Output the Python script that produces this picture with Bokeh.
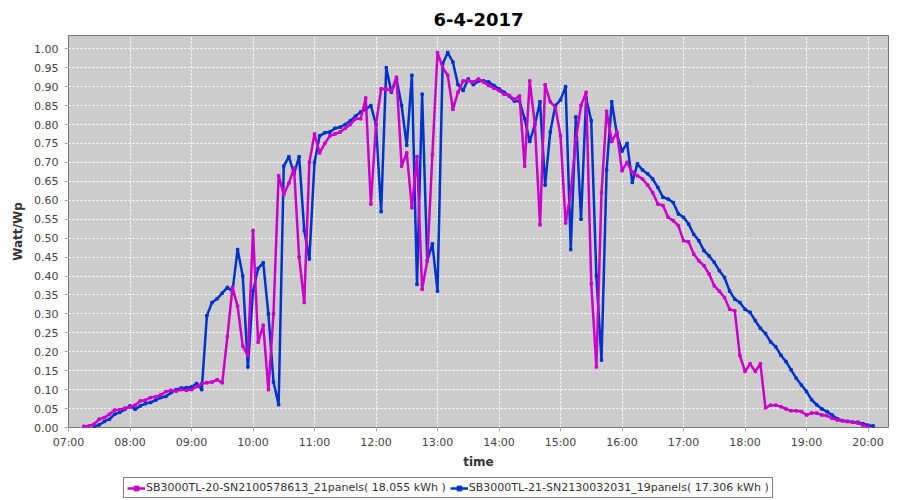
import pandas as pd
from bokeh.plotting import figure
from bokeh.layouts import column
from bokeh.models import (Range1d, SingleIntervalTicker, DatetimeTickFormatter,
                          PrintfTickFormatter, Legend, LegendItem, ColumnDataSource)
from bokeh.embed import file_html
from bokeh.resources import INLINE

DAY = "2017-04-06"
TITLE = "6-4-2017"
X_LABEL = "time"
Y_LABEL = "Watt/Wp"

name_20 = "SB3000TL-20-SN2100578613_21panels( 18.055 kWh )"
start_20 = "07:15"
values_20 = [
    0.003, 0.004, 0.009, 0.022, 0.026, 0.035, 0.046, 0.047, 0.051,                # 07:15-07:55
    0.054, 0.059, 0.070, 0.072, 0.079, 0.081, 0.086, 0.095, 0.098, 0.096, 0.100, 0.098,  # 08
    0.100, 0.108, 0.116, 0.118, 0.120, 0.126, 0.118, 0.240, 0.370, 0.320, 0.215, 0.190,  # 09
    0.520, 0.225, 0.270, 0.100, 0.300, 0.665, 0.615, 0.645, 0.685, 0.450, 0.330, 0.700,  # 10
    0.775, 0.725, 0.750, 0.770, 0.775, 0.780, 0.790, 0.800, 0.815, 0.815, 0.870, 0.590,  # 11
    0.800, 0.894, 0.894, 0.888, 0.925, 0.690, 0.725, 0.580, 0.715, 0.365, 0.440, 0.720,  # 12
    0.990, 0.950, 0.930, 0.840, 0.885, 0.915, 0.916, 0.912, 0.920, 0.912, 0.903, 0.896,  # 13
    0.890, 0.880, 0.877, 0.866, 0.875, 0.690, 0.915, 0.800, 0.535, 0.905, 0.860, 0.846,  # 14
    0.770, 0.540, 0.620, 0.760, 0.850, 0.885, 0.380, 0.160, 0.620, 0.835, 0.755, 0.780,  # 15
    0.678, 0.700, 0.674, 0.665, 0.656, 0.640, 0.620, 0.590, 0.586, 0.555, 0.546, 0.533,  # 16
    0.493, 0.490, 0.458, 0.440, 0.427, 0.405, 0.374, 0.360, 0.343, 0.312, 0.308, 0.190,  # 17
    0.148, 0.168, 0.148, 0.168, 0.052, 0.059, 0.059, 0.055, 0.049, 0.044, 0.044, 0.042,  # 18
    0.033, 0.038, 0.038, 0.033, 0.031, 0.024, 0.020, 0.018, 0.016, 0.014, 0.012, 0.006,  # 19
    0.003,                                                                        # 20:00
]

name_21 = "SB3000TL-21-SN2130032031_19panels( 17.306 kWh )"
start_21 = "07:25"
values_21 = [
    0.002, 0.007, 0.016, 0.022, 0.035, 0.040, 0.048,                             # 07:25-07:55
    0.057, 0.048, 0.057, 0.063, 0.066, 0.072, 0.079, 0.082, 0.092, 0.100, 0.104, 0.105,  # 08
    0.107, 0.116, 0.100, 0.295, 0.330, 0.340, 0.355, 0.370, 0.360, 0.470, 0.400, 0.160,  # 09
    0.360, 0.420, 0.435, 0.300, 0.120, 0.060, 0.690, 0.715, 0.670, 0.715, 0.520, 0.445,  # 10
    0.700, 0.770, 0.778, 0.780, 0.790, 0.793, 0.800, 0.810, 0.822, 0.833, 0.840, 0.850,  # 11
    0.800, 0.570, 0.950, 0.885, 0.920, 0.850, 0.745, 0.930, 0.378, 0.880, 0.440, 0.485,  # 12
    0.360, 0.960, 0.990, 0.965, 0.905, 0.890, 0.920, 0.905, 0.915, 0.915, 0.912, 0.903,  # 13
    0.894, 0.885, 0.875, 0.862, 0.862, 0.815, 0.755, 0.800, 0.860, 0.640, 0.780, 0.850,  # 14
    0.865, 0.900, 0.470, 0.820, 0.550, 0.870, 0.810, 0.400, 0.178, 0.680, 0.860, 0.775,  # 15
    0.730, 0.750, 0.647, 0.696, 0.680, 0.670, 0.656, 0.634, 0.608, 0.603, 0.594, 0.564,  # 16
    0.555, 0.537, 0.510, 0.493, 0.467, 0.453, 0.436, 0.414, 0.396, 0.360, 0.339, 0.330,  # 17
    0.312, 0.304, 0.282, 0.262, 0.248, 0.226, 0.213, 0.191, 0.174, 0.152, 0.130, 0.112,  # 18
    0.095, 0.073, 0.060, 0.049, 0.042, 0.033, 0.023, 0.018, 0.016, 0.014, 0.014, 0.010,  # 19
    0.006, 0.004,                                                                 # 20:00-20:05
]

x_start = "07:00"
x_end = "20:20"
y_end = 1.035

COLOR_20 = "#cc00cc"
COLOR_21 = "#0033cc"


def times(start, n):
    return pd.date_range(pd.Timestamp(f"{DAY} {start}"), periods=n, freq="5min")


src_20 = ColumnDataSource(dict(t=times(start_20, len(values_20)), v=values_20))
src_21 = ColumnDataSource(dict(t=times(start_21, len(values_21)), v=values_21))

p = figure(width=900, height=474, x_axis_type="datetime", output_backend="svg",
           toolbar_location=None,
           x_range=Range1d(pd.Timestamp(f"{DAY} {x_start}"), pd.Timestamp(f"{DAY} {x_end}")),
           y_range=Range1d(0, y_end),
           min_border_left=68, min_border_right=12, min_border_top=35, min_border_bottom=47)

p.border_fill_color = "white"
p.background_fill_color = "#cccccc"
p.outline_line_color = "#777777"
p.outline_line_width = 1

p.title.text = TITLE
p.title.align = "center"
p.title.text_font = "DejaVu Sans"
p.title.text_font_size = "18px"
p.title.text_font_style = "bold"
p.title.text_color = "black"
p.title.standoff = 19

LW = 2.5
l21 = p.line("t", "v", source=src_21, color=COLOR_21, line_width=LW, line_join="round")
s21 = p.scatter("t", "v", source=src_21, marker="square", size=2.5, color=COLOR_21)
l20 = p.line("t", "v", source=src_20, color=COLOR_20, line_width=LW, line_join="round")
s20 = p.scatter("t", "v", source=src_20, marker="square", size=2.5, color=COLOR_20)

p.xaxis.ticker = SingleIntervalTicker(interval=3600000, num_minor_ticks=0)
p.xaxis.formatter = DatetimeTickFormatter(hours="%H:%M", hourmin="%H:%M", minutes="%H:%M",
                                          minsec="%H:%M", days="%H:%M")
p.yaxis.ticker = SingleIntervalTicker(interval=0.05, num_minor_ticks=0)
p.yaxis.formatter = PrintfTickFormatter(format="%.2f")

for ax in (p.xaxis, p.yaxis):
    ax.axis_line_color = None
    ax.major_tick_line_color = "#aaaaaa"
    ax.major_tick_out = 4
    ax.major_tick_in = 0
    ax.minor_tick_line_color = None
    ax.major_label_text_font = "DejaVu Sans"
    ax.major_label_text_font_size = "11px"
    ax.major_label_text_color = "#444444"
    ax.axis_label_text_font = "DejaVu Sans"
    ax.axis_label_text_font_size = "12px"
    ax.axis_label_text_font_style = "bold"
    ax.axis_label_text_color = "#333333"

p.xaxis.axis_label = X_LABEL
p.yaxis.axis_label = Y_LABEL
p.xaxis.major_label_standoff = 4
p.yaxis.major_label_standoff = 6
p.xaxis.axis_label_standoff = 3
p.yaxis.axis_label_standoff = 6

for g in (p.xgrid, p.ygrid):
    g.grid_line_color = "white"
    g.grid_line_dash = "2 2"
    g.grid_line_width = 1

# legend strip below the chart (its frame is aligned with the chart's frame)
q = figure(width=900, height=26, output_backend="svg", toolbar_location=None,
           x_range=Range1d(0, 1), y_range=Range1d(0, 1),
           x_axis_location=None, y_axis_location=None,
           min_border_left=0, min_border_right=0, min_border_top=0, min_border_bottom=0)
q.outline_line_color = None
q.grid.visible = False
q.background_fill_color = "white"
q.border_fill_color = "white"
offscreen = ColumnDataSource(dict(x=[-5, -4], y=[-5, -5]))
k20 = q.line("x", "y", source=offscreen, color=COLOR_20, line_width=LW)
m20 = q.scatter("x", "y", source=offscreen, marker="square", size=3, color=COLOR_20)
k21 = q.line("x", "y", source=offscreen, color=COLOR_21, line_width=LW)
m21 = q.scatter("x", "y", source=offscreen, marker="square", size=3, color=COLOR_21)

legend = Legend(items=[LegendItem(label=name_20, renderers=[k20, m20], index=0),
                       LegendItem(label=name_21, renderers=[k21, m21], index=0)],
                orientation="horizontal", location=(55, 2),
                border_line_color="black", border_line_width=1,
                background_fill_color="white", background_fill_alpha=1,
                padding=3, spacing=4, margin=0,
                label_text_font="DejaVu Sans", label_text_font_size="11px",
                label_text_color="#333333",
                glyph_width=18, glyph_height=12, label_standoff=1, label_height=12)
q.add_layout(legend)

layout = column(p, q, spacing=0)
open("out.html", "w").write(file_html(layout, INLINE))
